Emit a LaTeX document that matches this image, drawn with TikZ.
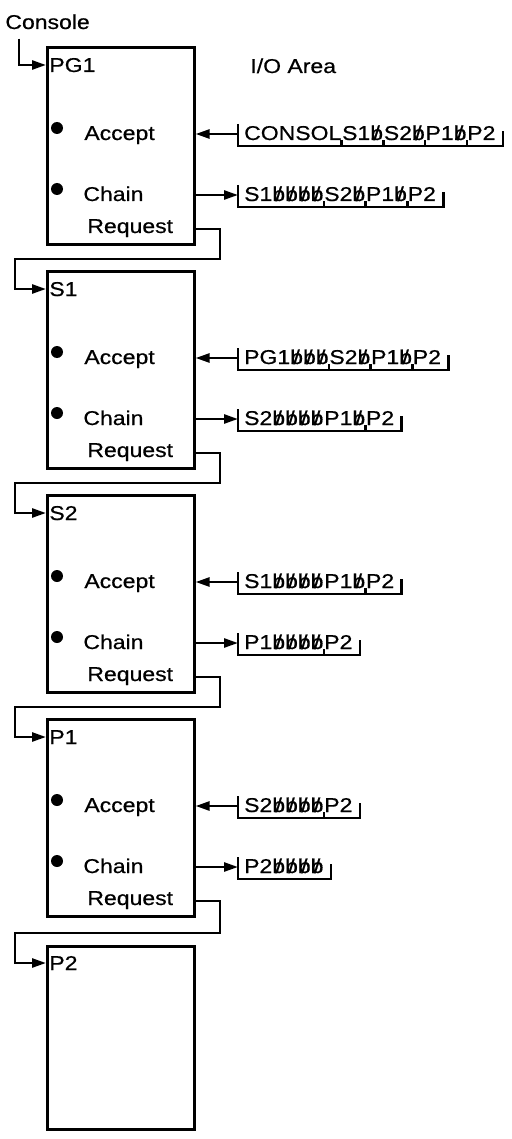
\documentclass[tikz,border=0pt]{standalone}
\usepackage{fontspec}
\setmainfont{Liberation Sans}[FakeStretch=1.15,FakeBold=0.6]
\usetikzlibrary{arrows.meta,positioning}

\newcommand{\bb}{\ooalign{b\cr\hidewidth/\hidewidth\cr}}

\tikzset{
  prog/.style={draw, line width=1.3pt, anchor=north west, inner sep=0pt,
    minimum width=73.5pt, minimum height=98.5pt},
  txt/.style={inner sep=0pt, anchor=base west, font=\fontsize{10}{12}\selectfont},
  dot/.style={circle, fill, inner sep=0pt, minimum size=6pt},
  wire/.style={line width=1.3pt},
  link/.style={wire, -{Triangle[length=7pt,width=4.5pt]}},
}

% I/O area record: name, left end, fields
\newcommand{\iorec}[3]{%
  \coordinate (#1) at (#2);
  \node[txt] (#1-0) at ([xshift=1.5pt,yshift=-3pt]#1) {};
  \foreach \f [count=\k, remember=\k as \j (initially 0)] in {#3}{
    \node[txt] (#1-\k) at (#1-\j.base east) {\f};
    \xdef\lastk{\k}
  }
  \path (#1-\lastk.base east) ++(3.5pt,0) coordinate (#1-r);
  \draw[wire] (#1) ++(0,5pt) -- ++(0,-11pt) coordinate (#1-bl)
    -- (#1-bl -| #1-r) -- ++(0,7.5pt);
}
\newcommand{\ioticks}[2]{%
  \foreach \t in {#2}
    \draw[wire] (#1-bl -| #1-\t.base east) -- ++(0,3pt);
}

\begin{document}
\begin{tikzpicture}[x=0.5pt,y=-0.5pt]
\useasboundingbox (0,0) rectangle (511,1139);

\node[txt] (console) at (5,29) {Console};
\node[txt] (ioarea) at (250,73) {I/O Area};

\foreach \nm [count=\i from 0] in {PG1,S1,S2,P1}{
  \pgfmathsetmacro\ly{65+224*\i}
  \node[prog] (\nm) at (46,\ly-19) {};
  \coordinate (\nm-in) at (46,\ly);
  \coordinate (\nm-out) at (193,\ly+164);
  \node[txt] (\nm-name) at (49,\ly+7) {\nm};
  \node[dot] (\nm-d1) at (57,\ly+63) {};
  \node[txt] (\nm-acc) at (84,\ly+75) {Accept};
  \node[dot] (\nm-d2) at (57,\ly+124) {};
  \node[txt] (\nm-chn) at (83,\ly+136) {Chain};
  \node[txt] (\nm-req) at (87,\ly+168) {Request};
}
\node[prog, minimum height=91.5pt] (P2) at (46,945) {};
\coordinate (P2-in) at (46,963);
\node[txt] (P2-name) at (49,970) {P2};

\draw[link] ([xshift=7pt,yshift=-4.5pt]console.south west) |- (PG1-in);
\foreach \src/\dst in {PG1/S1,S1/S2,S2/P1,P1/P2}
  \draw[link] (\src-out) -- ++(27,0) |- ([shift={(-31,-30)}]\dst-in) |- (\dst-in);

\iorec{PG1-a}{238,134}{CONSOL,S1\bb,S2\bb,P1\bb,P2}
\ioticks{PG1-a}{1,2,3,4}
\iorec{PG1-c}{238,195}{S1\bb\bb\bb\bb,S2\bb,P1\bb,P2}
\ioticks{PG1-c}{1,2,3}
\iorec{S1-a}{238,358}{PG1\bb\bb\bb,S2\bb,P1\bb,P2}
\ioticks{S1-a}{1,2,3}
\iorec{S1-c}{238,419}{S2\bb\bb\bb\bb,P1\bb,P2}
\ioticks{S1-c}{2}
\iorec{S2-a}{238,582}{S1\bb\bb\bb\bb,P1\bb,P2}
\ioticks{S2-a}{2}
\iorec{S2-c}{238,643}{P1\bb\bb\bb\bb,P2}
\ioticks{S2-c}{1}
\iorec{P1-a}{238,806}{S2\bb\bb\bb\bb,P2}
\ioticks{P1-a}{1}
\iorec{P1-c}{238,867}{P2\bb\bb\bb\bb}

\foreach \nm in {PG1,S1,S2,P1}{
  \draw[link] (\nm-a) -- (\nm-a -| \nm.east);
  \draw[link] (\nm-c -| \nm.east) -- (\nm-c);
}
\end{tikzpicture}
\end{document}
